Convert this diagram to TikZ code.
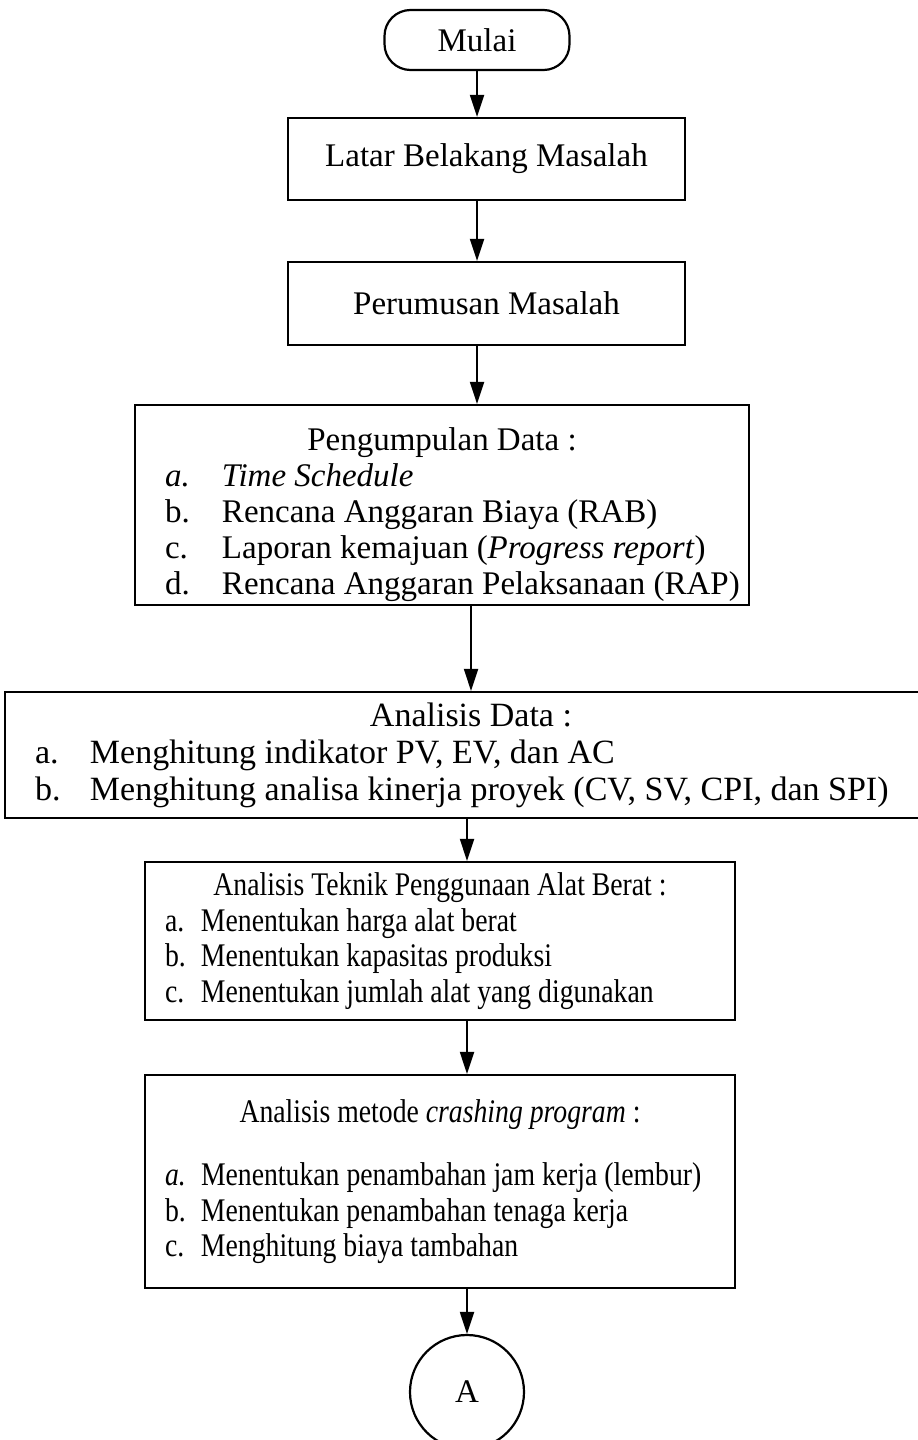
\documentclass[tikz,border=0pt]{standalone}
\usepackage{fontspec}
\setmainfont{Liberation Serif}
\newfontfamily\sempit[FakeStretch=0.84]{Liberation Serif}
\usetikzlibrary{arrows.meta}
\setlength{\parindent}{0pt}

% one list line: indent, label width, label, text
\newcommand{\butir}[4]{\hspace*{#1}\makebox[#2][l]{#3}#4\par}

\tikzset{
    txt/.style={font=\fontsize{16.5}{18}\selectfont},
    txtsempit/.style={font=\sempit\fontsize{16.5}{17.75}\selectfont},
    proc/.style={txt, draw, rectangle, line width=1.1pt, inner sep=0pt, align=flush left},
    term/.style={txt, draw, rectangle, rounded corners=13pt, line width=1.1pt,
        minimum width=92.5pt, minimum height=30pt},
    conn/.style={txt, draw, circle, line width=1.1pt, minimum size=57pt, inner sep=0pt},
    arr/.style={line width=1pt, -{Triangle[length=11pt,width=7pt]}}
}

\begin{document}
\begin{tikzpicture}[x=0.5pt, y=-0.5pt]
    \useasboundingbox (0,0) rectangle (917,1440);

    \node[term] (mulai) at (477,40) {Mulai};

    \node[proc, align=center, minimum width=198.5pt, minimum height=41pt]
        (latar) at (486.5,159) {Latar Belakang Masalah};

    \node[proc, align=center, minimum width=198.5pt, minimum height=41.5pt]
        (rumusan) at (486.5,303.5) {Perumusan Masalah};

    \node[proc, text width=307pt, minimum height=100pt] (kumpul) at (442,505) {
        {\centering\rule{0pt}{21pt}Pengumpulan Data :\par}
        \butir{15pt}{28.5pt}{\textit{a.}}{\textit{Time Schedule}}
        \butir{15pt}{28.5pt}{b.}{Rencana Anggaran Biaya (RAB)}
        \butir{15pt}{28.5pt}{c.}{Laporan kemajuan (\textit{Progress report})}
        \butir{15pt}{28.5pt}{d.}{Rencana Anggaran Pelaksanaan (RAP)}
    };

    \node[proc, font=\fontsize{17}{18.5}\selectfont, text width=466pt, minimum height=63pt]
        (data) at (471,755) {
        {\centering Analisis Data :\par}
        \butir{15pt}{27.5pt}{a.}{Menghitung indikator PV, EV, dan AC}
        \butir{15pt}{27.5pt}{b.}{Menghitung analisa kinerja proyek (CV, SV, CPI, dan SPI)}
    };

    \node[proc, txtsempit, text width=295pt, minimum height=79pt] (alat) at (440,941) {
        {\centering Analisis Teknik Penggunaan Alat Berat :\par}
        \butir{10pt}{18pt}{a.}{Menentukan harga alat berat}
        \butir{10pt}{18pt}{b.}{Menentukan kapasitas produksi}
        \butir{10pt}{18pt}{c.}{Menentukan jumlah alat yang digunakan}
    };

    \node[proc, txtsempit, text width=295pt, minimum height=106.5pt] (crash) at (440,1181.5) {
        {\centering Analisis metode \textit{crashing program} :\par}
        \vspace{14pt}
        \butir{10pt}{18pt}{\textit{a.}}{Menentukan penambahan jam kerja (lembur)}
        \butir{10pt}{18pt}{b.}{Menentukan penambahan tenaga kerja}
        \butir{10pt}{18pt}{c.}{Menghitung biaya tambahan}
    };

    \node[conn] (a) at (467,1392) {A};

    % alur
    \draw[arr] (mulai) -- (mulai |- latar.north);
    \draw[arr] (latar.south -| mulai) -- (rumusan.north -| mulai);
    \draw[arr] (rumusan.south -| mulai) -- (kumpul.north -| mulai);
    \draw[arr] (kumpul.south -| data) -- (data);
    \draw[arr] (data.south -| a) -- (alat.north -| a);
    \draw[arr] (alat.south -| a) -- (crash.north -| a);
    \draw[arr] (crash.south -| a) -- (a);
\end{tikzpicture}
\end{document}
